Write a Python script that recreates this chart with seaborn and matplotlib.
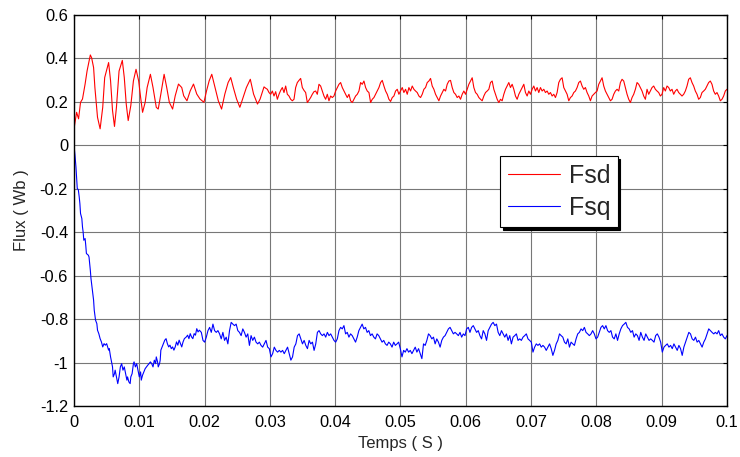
import numpy as np
import pandas as pd
import matplotlib
matplotlib.use("Agg")
import matplotlib.pyplot as plt
import seaborn as sns

# ---------------- data ----------------
# Fsd: start-up transient (irregular samples)
fsd_t0 = [0, 0.0004, 0.0007, 0.0010, 0.0013, 0.0017, 0.0020, 0.0025, 0.0027, 0.0030,
          0.0032, 0.0036, 0.0040, 0.0044, 0.0047, 0.0053, 0.0056, 0.0059, 0.0062, 0.0065,
          0.0069, 0.0074, 0.0077, 0.0080, 0.0083, 0.0087, 0.0091, 0.0095, 0.0099, 0.0102,
          0.0105, 0.0109, 0.0112, 0.0117, 0.0121, 0.0126, 0.0129, 0.0133, 0.0138, 0.0142,
          0.0146, 0.0151, 0.0155, 0.0160, 0.0165, 0.0168, 0.0173, 0.0178, 0.0183, 0.0188,
          0.0193, 0.0199, 0.0203, 0.0207, 0.0211, 0.0216, 0.0221, 0.0226, 0.0231, 0.0236,
          0.0240, 0.0244, 0.0249, 0.0254, 0.0259, 0.0264, 0.0270, 0.0275, 0.0281, 0.0285]
fsd_v0 = [0.076, 0.152, 0.122, 0.198, 0.213, 0.282, 0.342, 0.416, 0.403, 0.358,
          0.266, 0.129, 0.076, 0.175, 0.312, 0.381, 0.297, 0.160, 0.087, 0.175,
          0.342, 0.391, 0.312, 0.190, 0.114, 0.183, 0.297, 0.350, 0.297, 0.221,
          0.152, 0.198, 0.266, 0.327, 0.266, 0.175, 0.167, 0.236, 0.327, 0.266,
          0.198, 0.167, 0.228, 0.282, 0.266, 0.228, 0.205, 0.251, 0.282, 0.236,
          0.213, 0.198, 0.251, 0.297, 0.327, 0.266, 0.205, 0.167, 0.236, 0.289,
          0.312, 0.266, 0.213, 0.175, 0.221, 0.266, 0.304, 0.236, 0.190, 0.213]
# Fsd: steady part, regular samples from 0.0291 s to 0.1 s
fsd_steady_start = 0.0291
fsd_steady = [
    0.269, 0.263, 0.258, 0.243, 0.235, 0.250, 0.227, 0.247, 0.212, 0.235,
    0.253, 0.266, 0.243, 0.273, 0.235, 0.227, 0.212, 0.205, 0.212, 0.266,
    0.289, 0.299, 0.308, 0.266, 0.253, 0.243, 0.197, 0.208, 0.220, 0.235,
    0.247, 0.250, 0.235, 0.281, 0.273, 0.250, 0.227, 0.212, 0.235, 0.205,
    0.227, 0.220, 0.227, 0.250, 0.266, 0.281, 0.289, 0.266, 0.250, 0.235,
    0.220, 0.235, 0.205, 0.197, 0.212, 0.227, 0.235, 0.250, 0.289, 0.281,
    0.296, 0.266, 0.250, 0.243, 0.197, 0.212, 0.220, 0.235, 0.250, 0.266,
    0.289, 0.299, 0.273, 0.250, 0.235, 0.212, 0.202, 0.220, 0.227, 0.250,
    0.258, 0.235, 0.250, 0.266, 0.243, 0.258, 0.235, 0.266, 0.250, 0.273,
    0.258, 0.250, 0.243, 0.227, 0.220, 0.235, 0.258, 0.266, 0.289, 0.296,
    0.308, 0.273, 0.258, 0.235, 0.220, 0.205, 0.227, 0.243, 0.258, 0.250,
    0.281, 0.296, 0.299, 0.266, 0.243, 0.235, 0.220, 0.227, 0.212, 0.235,
    0.250, 0.235, 0.258, 0.281, 0.296, 0.311, 0.266, 0.243, 0.235, 0.220,
    0.212, 0.205, 0.227, 0.243, 0.250, 0.258, 0.289, 0.296, 0.258, 0.235,
    0.212, 0.197,
    0.212, 0.205, 0.235, 0.258, 0.273, 0.289, 0.266, 0.281, 0.258, 0.227,
    0.212, 0.235, 0.250, 0.266, 0.281, 0.243, 0.227, 0.250, 0.235, 0.258,
    0.273, 0.250, 0.266, 0.243, 0.266, 0.250, 0.258, 0.243, 0.250, 0.235,
    0.243, 0.227, 0.235, 0.220, 0.243, 0.289, 0.304, 0.311, 0.266, 0.250,
    0.235, 0.205, 0.220, 0.227, 0.243, 0.250, 0.266, 0.289, 0.296, 0.273,
    0.258, 0.266, 0.243, 0.227, 0.205, 0.227, 0.235, 0.243, 0.250, 0.281,
    0.296, 0.311, 0.273, 0.250, 0.235, 0.220, 0.205, 0.212, 0.235, 0.250,
    0.258, 0.250, 0.289, 0.304, 0.296, 0.266, 0.235, 0.212, 0.197, 0.220,
    0.235, 0.258, 0.289, 0.281, 0.266, 0.250, 0.227, 0.212, 0.258, 0.235,
    0.250, 0.266, 0.273, 0.258, 0.250, 0.243, 0.227, 0.235, 0.266, 0.250,
    0.273, 0.266, 0.250, 0.258, 0.235, 0.250, 0.258, 0.243, 0.235, 0.227,
    0.235, 0.250, 0.273, 0.304, 0.311, 0.289, 0.273, 0.250, 0.235, 0.212,
    0.220, 0.243, 0.250, 0.258, 0.273, 0.289, 0.296, 0.281, 0.250, 0.235,
    0.243, 0.227, 0.205, 0.212, 0.227, 0.250, 0.258]

# Fsq: start-up transient (irregular samples)
fsq_t0 = [0, 0.00015, 0.0003, 0.0004, 0.0005, 0.00066, 0.0008, 0.0009, 0.0010, 0.0012,
          0.0013, 0.0014, 0.0015, 0.0017, 0.0018, 0.0019, 0.0022, 0.0023, 0.0025, 0.0026,
          0.0027, 0.0029, 0.0030, 0.0031, 0.0033, 0.0035, 0.0036, 0.0038, 0.0040, 0.0042,
          0.0044, 0.0046, 0.0048, 0.0050, 0.0053, 0.0054, 0.0056, 0.0058, 0.0059, 0.0060,
          0.0062, 0.0063, 0.0065, 0.0067, 0.0069, 0.0071, 0.0073, 0.0075, 0.0077, 0.0079,
          0.0081, 0.0082, 0.0084, 0.0086, 0.0087, 0.0089, 0.0091, 0.0092, 0.0094, 0.0096,
          0.0098, 0.0100, 0.0102, 0.0103, 0.0105, 0.0107, 0.0109, 0.0111, 0.0113, 0.0115,
          0.0117, 0.0119, 0.0121, 0.0123, 0.0125, 0.0126, 0.0128, 0.0129, 0.0131, 0.0132,
          0.0133, 0.0135, 0.0137, 0.0139, 0.0141, 0.0143, 0.0145, 0.0147, 0.0149, 0.0151,
          0.0153, 0.0155, 0.0157, 0.0159, 0.0161, 0.0163, 0.0165, 0.0167, 0.0169, 0.0172,
          0.0174, 0.0176, 0.0178, 0.0180, 0.0182, 0.0184, 0.0186, 0.0188, 0.0190, 0.0192]
fsq_v0 = [0, -0.046, -0.100, -0.146, -0.199, -0.204, -0.238, -0.268, -0.314, -0.337,
          -0.376, -0.399, -0.437, -0.429, -0.460, -0.498, -0.506, -0.514, -0.575, -0.613,
          -0.637, -0.683, -0.713, -0.759, -0.805, -0.821, -0.851, -0.867, -0.890, -0.905,
          -0.928, -0.913, -0.920, -0.913, -0.943, -0.936, -0.974, -1.005, -1.020, -1.066,
          -1.051, -1.035, -1.066, -1.097, -1.066, -1.020, -1.005, -1.035, -1.020, -1.051,
          -1.081, -1.066, -1.089, -1.097, -1.066, -1.051, -1.005, -0.997, -1.020, -1.005,
          -1.035, -1.066, -1.043, -1.081, -1.058, -1.043, -1.028, -1.020, -1.012, -1.005,
          -0.997, -1.005, -1.020, -0.989, -1.005, -0.974, -0.997, -1.020, -1.005, -0.989,
          -0.943, -0.928, -0.913, -0.897, -0.890, -0.913, -0.928, -0.920, -0.936, -0.928,
          -0.943, -0.928, -0.905, -0.920, -0.897, -0.913, -0.928, -0.905, -0.890, -0.882,
          -0.874, -0.890, -0.867, -0.882, -0.890, -0.867, -0.874, -0.844, -0.859, -0.851]
# Fsq: steady part, regular samples from 0.0195 s to 0.1 s
fsq_steady_start = 0.0195
fsq_steady = [
    -0.861, -0.898, -0.906, -0.883, -0.853, -0.838, -0.861, -0.823, -0.853, -0.861,
    -0.853, -0.868, -0.891, -0.861, -0.898, -0.883, -0.914, -0.853, -0.815, -0.823,
    -0.830, -0.823, -0.853, -0.861, -0.876, -0.845, -0.861, -0.883, -0.868, -0.921,
    -0.876, -0.898, -0.883, -0.906, -0.914, -0.906, -0.921, -0.929, -0.914, -0.898,
    -0.929, -0.936, -0.974, -0.959, -0.929, -0.944, -0.952, -0.944, -0.952, -0.944,
    -0.959, -0.944, -0.929, -0.959, -0.989, -0.974, -0.929, -0.914, -0.876, -0.868,
    -0.891, -0.914, -0.898, -0.921, -0.936, -0.898, -0.914, -0.906, -0.944, -0.914,
    -0.861, -0.853, -0.868, -0.876, -0.868, -0.883, -0.861, -0.876, -0.868, -0.883,
    -0.898, -0.906, -0.891, -0.853, -0.838, -0.845, -0.830, -0.868, -0.861, -0.883,
    -0.868, -0.876, -0.891, -0.906, -0.883, -0.853, -0.838, -0.823, -0.845, -0.838,
    -0.861, -0.853, -0.876, -0.868, -0.883, -0.891, -0.868, -0.876, -0.891, -0.906,
    -0.898, -0.914, -0.921, -0.906, -0.914, -0.929, -0.906, -0.921, -0.914, -0.906,
    -0.936, -0.974, -0.944, -0.952, -0.936, -0.952, -0.944, -0.959, -0.944, -0.929,
    -0.952, -0.936, -0.959, -0.982, -0.914, -0.921, -0.898, -0.868, -0.876, -0.891,
    -0.883, -0.914, -0.891, -0.906, -0.929, -0.898, -0.883, -0.876, -0.861, -0.845,
    -0.838, -0.853, -0.868, -0.861, -0.868, -0.876, -0.861, -0.883, -0.868, -0.876,
    -0.845, -0.838,
    -0.861, -0.838, -0.830, -0.845, -0.861, -0.853, -0.876, -0.891, -0.853, -0.868,
    -0.898, -0.853, -0.838, -0.823, -0.815, -0.830, -0.823, -0.861, -0.876, -0.853,
    -0.868, -0.883, -0.868, -0.898, -0.876, -0.914, -0.883, -0.876, -0.868, -0.898,
    -0.891, -0.898, -0.883, -0.876, -0.868, -0.891, -0.898, -0.906, -0.952, -0.929,
    -0.914, -0.921, -0.914, -0.929, -0.921, -0.929, -0.944, -0.929, -0.914, -0.936,
    -0.967, -0.944, -0.914, -0.898, -0.868, -0.876, -0.883, -0.906, -0.914, -0.891,
    -0.929, -0.906, -0.914, -0.921, -0.891, -0.868, -0.861, -0.845, -0.853, -0.838,
    -0.861, -0.868, -0.876, -0.868, -0.853, -0.868, -0.891, -0.883, -0.861, -0.838,
    -0.830, -0.845, -0.830, -0.853, -0.861, -0.853, -0.883, -0.891, -0.868, -0.898,
    -0.868, -0.845, -0.830, -0.823, -0.815, -0.838, -0.845, -0.861, -0.853, -0.883,
    -0.868, -0.876, -0.898, -0.861, -0.883, -0.898, -0.868, -0.883, -0.898, -0.891,
    -0.898, -0.906, -0.876, -0.868, -0.883, -0.906, -0.952, -0.929, -0.921, -0.914,
    -0.929, -0.921, -0.936, -0.914, -0.929, -0.944, -0.921, -0.936, -0.967, -0.929,
    -0.906, -0.883, -0.861, -0.868, -0.891, -0.898, -0.883, -0.906, -0.898, -0.914,
    -0.929, -0.906, -0.891, -0.868, -0.845, -0.853, -0.861, -0.868, -0.861, -0.868,
    -0.853, -0.876, -0.868, -0.883, -0.891, -0.876]

t_end = 0.1
series_names = ["Fsd", "Fsq"]
series_colors = ["#ff0000", "#0000ff"]
x_ticks = [0, 0.01, 0.02, 0.03, 0.04, 0.05, 0.06, 0.07, 0.08, 0.09, 0.1]
x_tick_labels = ["0", "0.01", "0.02", "0.03", "0.04", "0.05", "0.06", "0.07", "0.08", "0.09", "0.1"]
y_ticks = [-1.2, -1.0, -0.8, -0.6, -0.4, -0.2, 0, 0.2, 0.4, 0.6]
y_tick_labels = ["-1.2", "-1", "-0.8", "-0.6", "-0.4", "-0.2", "0", "0.2", "0.4", "0.6"]
x_label = "Temps ( S )"
y_label = "Flux ( Wb )"

# ---------------- build table ----------------
fsd_t = list(fsd_t0) + list(np.linspace(fsd_steady_start, t_end, len(fsd_steady)))
fsd_v = list(fsd_v0) + list(fsd_steady)
fsq_t = list(fsq_t0) + list(np.linspace(fsq_steady_start, t_end, len(fsq_steady)))
fsq_v = list(fsq_v0) + list(fsq_steady)
df = pd.concat([
    pd.DataFrame({"t": fsd_t, "flux": fsd_v, "serie": series_names[0]}),
    pd.DataFrame({"t": fsq_t, "flux": fsq_v, "serie": series_names[1]}),
], ignore_index=True)

# ---------------- style ----------------
sns.set_style("white")
plt.rcParams["font.family"] = ["Liberation Sans", "DejaVu Sans"]

fig = plt.figure(figsize=(7.4, 4.57), dpi=100)
ax = fig.add_axes([0.1, 0.1116, 0.8824, 0.8556])

sns.lineplot(data=df, x="t", y="flux", hue="serie", palette=series_colors,
             estimator=None, sort=False, linewidth=0.8, ax=ax)

ax.set_xlim(0, t_end)
ax.set_ylim(-1.2, 0.6)
ax.set_xticks(x_ticks)
ax.set_xticklabels(x_tick_labels)
ax.set_yticks(y_ticks)
ax.set_yticklabels(y_tick_labels)
ax.tick_params(direction="in", length=3, width=0.8, top=True, right=True,
               labelsize=11.8, colors="black")
ax.tick_params(axis="x", pad=6.5)
ax.tick_params(axis="y", pad=4.3)
ax.grid(True, color="#777777", linewidth=0.8, linestyle="-")
ax.set_axisbelow(True)
for s in ax.spines.values():
    s.set_visible(True)
    s.set_color("black")
    s.set_linewidth(1.0)
ax.set_xlabel(x_label, fontsize=12, labelpad=4)
ax.set_ylabel(y_label, fontsize=12, labelpad=8)

handles, labels = ax.get_legend_handles_labels()
leg = ax.legend(handles, labels, loc="upper left", bbox_to_anchor=(0.653, 0.639),
                borderaxespad=0, fontsize=18, frameon=True, fancybox=False,
                framealpha=1, edgecolor="black", handlelength=2.1,
                labelspacing=0.33, handletextpad=0.33, borderpad=0.3,
                shadow={"color": "black", "alpha": 1})
leg.get_frame().set_linewidth(0.8)
for ln in leg.get_lines():
    ln.set_linewidth(0.8)

fig.savefig("out.png", dpi=100, facecolor="white")
